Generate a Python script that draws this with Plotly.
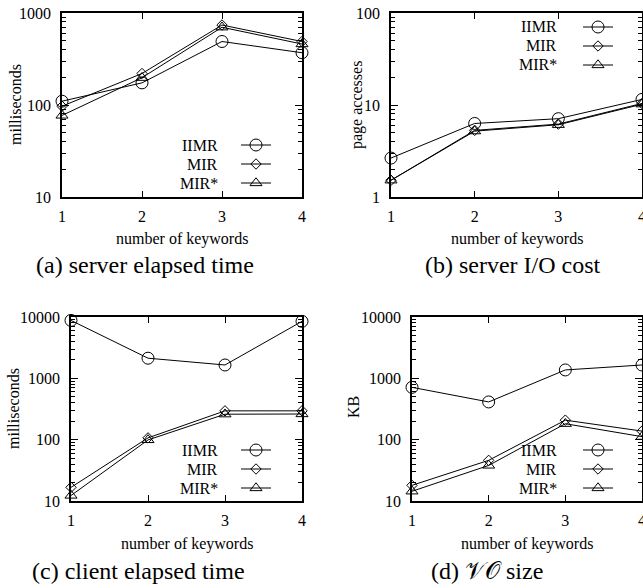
import math
import plotly.graph_objects as go

# ---------------- data ----------------
keywords = [1, 2, 3, 4]
series_names = ["IIMR", "MIR", "MIR*"]

# (a) server elapsed time (milliseconds)
a_iimr = [110, 174, 490, 370]
a_mir = [97, 220, 740, 490]
a_mirs = [77, 198, 700, 460]

# (b) server I/O cost (page accesses)
b_iimr = [2.65, 6.3, 7.1, 11.5]
b_mir = [1.52, 5.3, 6.2, 10.4]
b_mirs = [1.52, 5.2, 6.1, 10.2]

# (c) client elapsed time (milliseconds)
c_iimr = [8800, 2130, 1650, 8500]
c_mir = [16.7, 107, 295, 295]
c_mirs = [12.3, 99, 260, 262]

# (d) VO size (KB)
d_iimr = [713, 412, 1370, 1650]
d_mir = [18, 46, 208, 138]
d_mirs = [14.4, 38, 182, 112]

a_ticks = [10, 100, 1000]
b_ticks = [1, 10, 100]
c_ticks = [10, 100, 1000, 10000]
d_ticks = [10, 100, 1000, 10000]

captions = ["(a) server elapsed time", "(b) server I/O cost",
            "(c) client elapsed time", "(d) \U0001D4B1\U0001D4AA size"]
ytitles = ["milliseconds", "page accesses", "milliseconds", "KB"]
xtitle = "number of keywords"

# ---------------- layout helpers ----------------
W, H = 643, 588
FONT = "Liberation Serif, Times New Roman, serif"

def px(x):
    return x / W

def py(y):
    return 1 - y / H

# pixel boxes for each panel: (left, right, top, bottom)
boxes = [(62, 302, 13, 197), (391, 642, 13, 197),
         (71, 302, 317, 501), (412, 642, 317, 501)]

panels = [
    (a_iimr, a_mir, a_mirs, a_ticks),
    (b_iimr, b_mir, b_mirs, b_ticks),
    (c_iimr, c_mir, c_mirs, c_ticks),
    (d_iimr, d_mir, d_mirs, d_ticks),
]

symbols = ["circle-open", "diamond-open", "triangle-up-open"]
sizes = [12, 8, 10.5]

fig = go.Figure()
annotations = []
layout = {}

# legend marker center x, middle row center y (pixels)
legend_pos = [(256, 164), (598, 46), (256, 469), (598, 469)]
text_right = [220, 559, 220, 559]
# axis text positions (pixels)
xt_label_y = [239, 239, 544, 544]
caption_pos = [(145, 265), (513, 265), (138, 571), (487, 571)]
ytitle_pos = [(15, 105), (357, 105), (13, 409), (353, 407)]

ROW = 19

for i, (s1, s2, s3, ticks) in enumerate(panels):
    n = "" if i == 0 else str(i + 1)
    l, r, t, b = boxes[i]
    xa = "x" + n
    ya = "y" + n
    leg = "legend" + n
    for k, vals in enumerate([s1, s2, s3]):
        fig.add_trace(go.Scatter(
            x=keywords, y=vals, mode="lines+markers",
            name="",
            line=dict(color="black", width=1),
            marker=dict(symbol=symbols[k], size=sizes[k],
                        color="black", line=dict(color="black", width=1)),
            cliponaxis=False,
            xaxis=xa, yaxis=ya, legend=leg, showlegend=True,
        ))
    lo = ticks[0]
    hi = ticks[-1]
    layout["xaxis" + n] = dict(
        domain=[px(l), px(r)], anchor=ya, range=[1, 4], automargin=False,
        tickvals=keywords, ticktext=[str(v) for v in keywords],
        ticks="inside", ticklen=6, tickcolor="black", tickwidth=1,
        mirror="ticks", showline=True, linecolor="black", linewidth=1.5,
        showgrid=False, zeroline=False, ticklabeloverflow="allow",
        tickfont=dict(family=FONT, size=16, color="black"),
        ticklabelstandoff=4,
    )
    layout["yaxis" + n] = dict(
        domain=[py(b), py(t)], anchor=xa, type="log", automargin=False,
        range=[math.log10(lo), math.log10(hi)],
        tickvals=ticks, ticktext=[str(v) for v in ticks],
        ticks="inside", ticklen=7, tickcolor="black", tickwidth=1,
        minor=dict(ticks="inside", ticklen=4, tickcolor="black",
                   dtick="D1", showgrid=False),
        mirror="ticks", showline=True, linecolor="black", linewidth=1.5,
        showgrid=False, zeroline=False, ticklabeloverflow="allow",
        tickfont=dict(family=FONT, size=16, color="black"),
        ticklabelstandoff=6,
    )
    mx, my = legend_pos[i]
    layout[leg] = dict(
        x=px(mx - 20), y=py(my - ROW - 14.5), xanchor="left", yanchor="top",
        bgcolor="rgba(0,0,0,0)", borderwidth=0, tracegroupgap=0,
        font=dict(family=FONT, size=12), itemwidth=30,
    )
    for k, nm in enumerate(series_names):
        annotations.append(dict(
            text=nm, x=px(text_right[i]), y=py(my + (k - 1) * ROW),
            xref="paper", yref="paper", xanchor="right", yanchor="middle",
            showarrow=False, font=dict(family=FONT, size=16, color="black"),
        ))
    annotations.append(dict(
        text=xtitle, x=px((l + r) / 2), y=py(xt_label_y[i]),
        xref="paper", yref="paper", xanchor="center", yanchor="middle",
        showarrow=False, font=dict(family=FONT, size=16, color="black"),
    ))
    cx, cy = caption_pos[i]
    annotations.append(dict(
        text=captions[i], x=px(cx), y=py(cy),
        xref="paper", yref="paper", xanchor="center", yanchor="middle",
        showarrow=False, font=dict(family=FONT, size=24, color="black"),
    ))
    tx, ty = ytitle_pos[i]
    annotations.append(dict(
        text=ytitles[i], x=px(tx), y=py(ty), textangle=-90,
        xref="paper", yref="paper", xanchor="center", yanchor="middle",
        showarrow=False, font=dict(family=FONT, size=16, color="black"),
    ))

fig.update_layout(
    template="none",
    width=W, height=H, margin=dict(l=0, r=0, t=0, b=0, autoexpand=False),
    paper_bgcolor="white", plot_bgcolor="white",
    annotations=annotations, **layout,
)

fig.write_html(
    "out.html",
    config={"displayModeBar": False},
    post_script="document.body.style.margin='0';document.body.style.overflow='hidden';",
)
